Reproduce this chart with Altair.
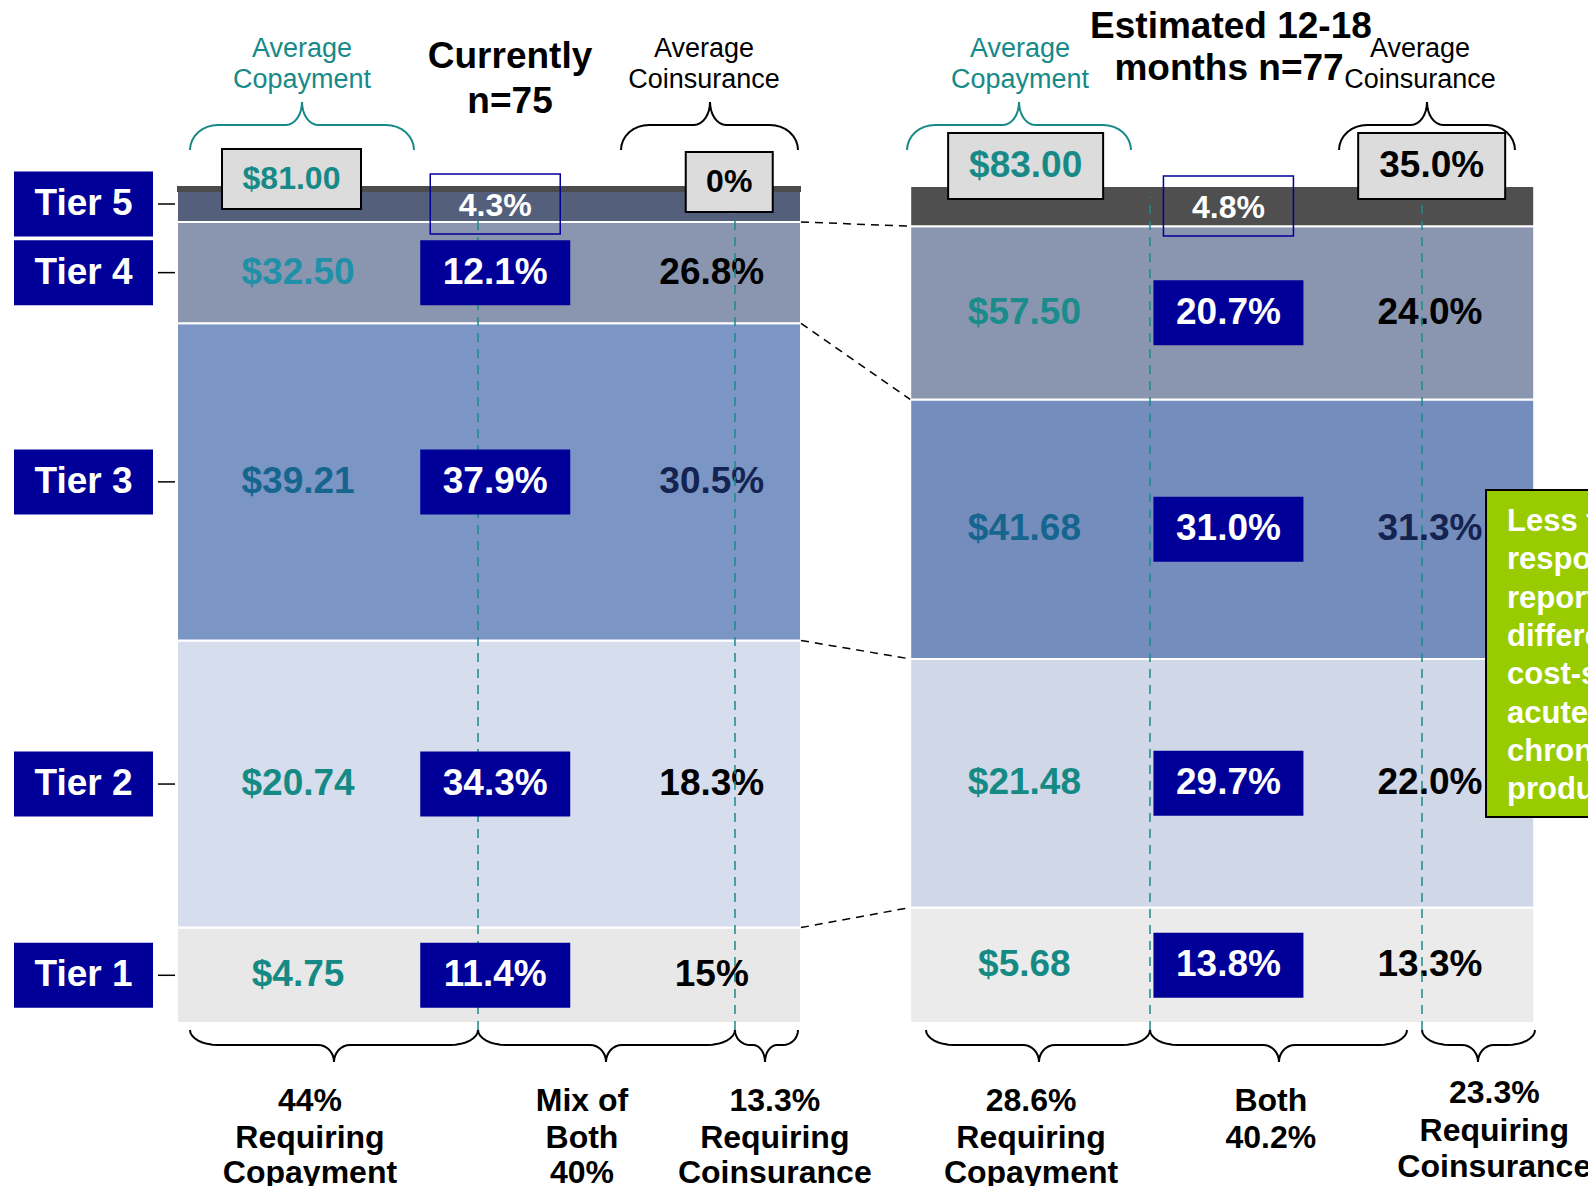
import altair as alt
import numpy as np
import pandas as pd

# ---------------- data ----------------
tiers = ["Tier 1", "Tier 2", "Tier 3", "Tier 4", "Tier 5"]
scenarios = ["Currently", "Estimated"]
title_current = ["Currently", "n=75"]
title_estimated = ["Estimated 12-18", "months n=77"]
share_current = [11.4, 34.3, 37.9, 12.1, 4.3]
share_estimated = [13.8, 29.7, 31.0, 20.7, 4.8]
copay_current = ["$4.75", "$20.74", "$39.21", "$32.50", "$81.00"]
copay_estimated = ["$5.68", "$21.48", "$41.68", "$57.50", "$83.00"]
coins_current = ["15%", "18.3%", "30.5%", "26.8%", "0%"]
coins_estimated = ["13.3%", "22.0%", "31.3%", "24.0%", "35.0%"]
groups_current = [["44%", "Requiring", "Copayment"], ["Mix of", "Both", "40%"],
                  ["13.3%", "Requiring", "Coinsurance"]]
groups_estimated = [["28.6%", "Requiring", "Copayment"], ["Both", "40.2%"],
                    ["23.3%", "Requiring", "Coinsurance"]]
header_copay = ["Average", "Copayment"]
header_coins = ["Average", "Coinsurance"]
note_lines = ["Less than", "respondents", "reported", "different",
              "cost-sharing", "acute and", "chronic", "products"]

# ---------------- styles ----------------
FONT = "Liberation Sans"
NAVY = "#000099"
TEAL = "#178A88"
fill_current = ["#E8E8E8", "#D6DDEC", "#7B95C4", "#8A96AF", "#535F7B"]
fill_estimated = ["#EBEBEB", "#D0D7E6", "#758DBD", "#8A96AF", "#4F4F4F"]
copay_col_current = ["#158A85", "#158A85", "#16658F", "#2090A8", TEAL]
copay_col_estimated = ["#158A85", "#158A85", "#16658F", "#1A8C8C", TEAL]
coins_col = ["#000000", "#000000", "#14234F", "#000000", "#000000"]

# ---------------- layout ----------------
PXU, PYU = 624.0, 8.37          # pixels per x unit (bar width) / per percent
W, H = 1580, 1178
OX, OY = 169, 1015              # pixel position of left bar origin
X_DOMAIN = [-OX / PXU, (W - OX) / PXU]
Y_DOMAIN = [(OY - H) / PYU, OY / PYU]

layout = {
    "Currently": dict(
        off=0.0, share=share_current, copay=copay_current, coins=coins_current,
        fills=fill_current, copay_cols=copay_col_current, title=title_current,
        groups=groups_current, copay_x=0.194, box_x=0.51, coins_x=0.857,
        t5_copay=(0.1835, -7, 139, 60, 32), t5_coins=(0.885, -4, 87, 60, 32),
        dash=(0.4824, 0.8942), dash_top=96.8,
        head=(0.2003, 0.8446), title_pos=[(0.5337, 115.41), (0.5337, 110.04)],
        top_braces=[(0.0208, 0.3798, 0.2003, TEAL), (0.7115, 0.9952, 0.8542, "black")],
        bot_braces=[(0.0208, 0.4824, 0.2516), (0.4824, 0.8942, 0.6875), (0.8942, 0.9952, 0.9423)],
        group_x=[0.2131, 0.649, 0.958], group_y=[[-9.3, -13.75, -17.9]] * 3,
    ),
    "Estimated": dict(
        off=1.175, share=share_estimated, copay=copay_estimated, coins=coins_estimated,
        fills=fill_estimated, copay_cols=copay_col_estimated, title=title_estimated,
        groups=groups_estimated, copay_x=0.183, box_x=0.51, coins_x=0.833,
        t5_copay=(0.185, -20, 155, 66, 37), t5_coins=(0.8357, -20, 147, 66, 37),
        dash=(0.3843, 0.8202), dash_top=98.7,
        head=(0.176, 0.817), title_pos=[(0.514, 119.0), (0.511, 114.0)],
        top_braces=[(-0.0051, 0.3538, 0.1744, TEAL), (0.6872, 0.9692, 0.8282, "black")],
        bot_braces=[(0.0253, 0.3843, 0.2064), (0.3843, 0.7962, 0.5910), (0.8202, 1.0013, 0.9099)],
        group_x=[0.1936, 0.578, 0.936],
        group_y=[[-9.3, -13.75, -17.9], [-9.3, -13.75], [-8.36, -12.9, -17.2]],
    ),
}


def X(f):
    return alt.X(f, type="quantitative", axis=None,
                 scale=alt.Scale(domain=X_DOMAIN, nice=False, zero=False))


def Y(f):
    return alt.Y(f, type="quantitative", axis=None,
                 scale=alt.Scale(domain=Y_DOMAIN, nice=False, zero=False))


def rects(df, **mark):
    enc = dict(x=X("x0"), x2=alt.X2("x1"), y=Y("y0"), y2=alt.Y2("y1"))
    if "fill" in df.columns:
        enc["fill"] = alt.Fill("fill:N", scale=None)
    return alt.Chart(df).mark_rect(**mark).encode(**enc)


def texts(df, align="center", weight="bold"):
    return alt.Chart(df).mark_text(align=align, baseline="middle", font=FONT,
                                   fontWeight=weight).encode(
        x=X("x"), y=Y("y"), text="text:N",
        size=alt.Size("fs:Q", scale=None), color=alt.Color("c:N", scale=None))


def rules(df, **mark):
    enc = dict(x=X("x0"), x2=alt.X2("x1"), y=Y("y0"))
    if "y1" in df.columns:
        enc["y2"] = alt.Y2("y1")
    return alt.Chart(df).mark_rule(**mark).encode(**enc)


def brace(x0, x1, xt, ye, ym, yt, n=9):
    seg = min(xt - x0, x1 - xt)
    rx = min(28 / PXU, 0.5 * seg)
    rt = min(16 / PXU, 0.4 * seg)
    ts = np.linspace(0, np.pi / 2, n)
    pts = [(x0 + rx * (1 - np.cos(t)), ye + (ym - ye) * np.sin(t)) for t in ts]
    pts += [(xt - rt + rt * np.sin(t), ym + (yt - ym) * (1 - np.cos(t))) for t in ts]
    pts += [(xt + rt * (1 - np.cos(t)), yt + (ym - yt) * np.sin(t)) for t in ts]
    pts += [(x1 - rx + rx * np.sin(t), ym + (ye - ym) * (1 - np.cos(t))) for t in ts]
    return pts


bars, strip, tierbox, tiertick, tiertext = [], [], [], [], []
copay_t, coins_t, dashes, navy, navy_t = [], [], [], [], []
t5box, t5box_t, graybox, graybox_t = [], [], [], []
brace_pts, head_t, bottom_t = [], [], []
bounds = {}

for s in scenarios:
    L = layout[s]
    off = L["off"]
    cum = 0.0
    mids = []
    tops = []
    for i, t in enumerate(tiers):
        v = L["share"][i]
        bars.append(dict(x0=off, x1=off + 1, y0=cum, y1=cum + v, fill=L["fills"][i]))
        mid = cum + v / 2
        mids.append(mid)
        cum += v
        tops.append(cum)
    bounds[s] = tops[:4]
    total = cum
    hb = 32.5 / PYU
    for i in range(4):
        m = mids[i]
        copay_t.append(dict(x=off + L["copay_x"], y=m, text=L["copay"][i], fs=37, c=L["copay_cols"][i]))
        coins_t.append(dict(x=off + L["coins_x"], y=m, text=L["coins"][i], fs=37, c=coins_col[i]))
        bx = off + L["box_x"]
        navy.append(dict(x0=bx - 75 / PXU, x1=bx + 75 / PXU, y0=m - hb, y1=m + hb, fill=NAVY))
        navy_t.append(dict(x=bx, y=m, text=f"{L['share'][i]:.1f}%", fs=37, c="white"))
    # tier 5 (above the bar)
    m5 = mids[4]
    bx = off + L["box_x"]
    t5box.append(dict(x0=bx - 65 / PXU, x1=bx + 65 / PXU, y0=m5 - 30 / PYU, y1=m5 + 30 / PYU))
    t5box_t.append(dict(x=bx, y=m5 - 2 / PYU, text=f"{L['share'][4]:.1f}%", fs=32, c="white"))
    for (fx, dy, w, h, fs), txt, col in ((L["t5_copay"], L["copay"][4], TEAL),
                                           (L["t5_coins"], L["coins"][4], "black")):
        cy = total - dy / PYU
        graybox.append(dict(x0=off + fx - w / 2 / PXU, x1=off + fx + w / 2 / PXU,
                            y0=cy - h / 2 / PYU, y1=cy + h / 2 / PYU, fill="#DCDCDC"))
        graybox_t.append(dict(x=off + fx, y=cy, text=txt, fs=fs, c=col))
    if s == "Currently":
        strip.append(dict(x0=off, x1=off + 1, y0=total))
        for i in range(5):
            m = mids[i]
            tierbox.append(dict(x0=-163 / PXU, x1=-24 / PXU, y0=m - hb, y1=m + hb, fill=NAVY))
            tiertick.append(dict(x0=-19 / PXU, x1=-2 / PXU, y0=m))
            tiertext.append(dict(x=-93.5 / PXU, y=m, text=tiers[i], fs=37, c="white"))
    for dx in L["dash"]:
        dashes.append(dict(x0=off + dx, x1=off + dx, y0=-0.84, y1=L["dash_top"]))
    # braces
    for j, (a, b, tip, col) in enumerate(L["top_braces"]):
        for k, (px, py) in enumerate(brace(off + a, off + b, off + tip, 104.30, 107.29, 110.04)):
            brace_pts.append(dict(x=px, y=py, o=k, bid=f"{s}-top-{j}", c=col))
    for j, (a, b, tip) in enumerate(L["bot_braces"]):
        for k, (px, py) in enumerate(brace(off + a, off + b, off + tip, -0.836, -2.628, -4.659)):
            brace_pts.append(dict(x=px, y=py, o=k, bid=f"{s}-bot-{j}", c="black"))
    # headers
    hx_copay, hx_coins = L["head"]
    for line, yy in zip(header_copay, (116.37, 112.66)):
        head_t.append(dict(x=off + hx_copay, y=yy, text=line, fs=27, c=TEAL, w="normal"))
    for line, yy in zip(header_coins, (116.37, 112.66)):
        head_t.append(dict(x=off + hx_coins, y=yy, text=line, fs=27, c="black", w="normal"))
    for line, (tx, ty) in zip(L["title"], L["title_pos"]):
        head_t.append(dict(x=off + tx, y=ty, text=line, fs=37, c="black", w="bold"))
    for g, gx, gy in zip(L["groups"], L["group_x"], L["group_y"]):
        for line, yy in zip(g, gy):
            bottom_t.append(dict(x=off + gx, y=yy, text=line, fs=32, c="black"))

connectors = [dict(x0=1.0, x1=layout["Estimated"]["off"], y0=a, y1=b)
              for a, b in zip(bounds["Currently"], bounds["Estimated"])]

note_box = [dict(x0=2.0978, x1=2.45, y0=24.61, y1=63.68, fill="#99CC00")]
note_t = [dict(x=2.1314, y=59.86 - 4.58 * i, text=line, fs=31, c="white")
          for i, line in enumerate(note_lines)]

D = pd.DataFrame
head_df = D(head_t)

layers = [
    rects(D(bars), stroke="white", strokeWidth=2),
    rules(D(strip), color="#4B4B4B", strokeWidth=6, yOffset=3),
    rules(D(connectors), color="black", strokeWidth=1.5, strokeDash=[8, 6]),
    rects(D(tierbox)),
    rules(D(tiertick), color="black", strokeWidth=1.5),
    texts(D(tiertext)),
    texts(D(copay_t)),
    texts(D(coins_t)),
    rules(D(dashes), color="#1A8A8A", strokeWidth=1.5, strokeDash=[9, 7]),
    rects(D(navy)),
    texts(D(navy_t)),
    rects(D(t5box), filled=False, stroke=NAVY, strokeWidth=1.5),
    texts(D(t5box_t)),
    rects(D(graybox), stroke="black", strokeWidth=2),
    texts(D(graybox_t)),
    alt.Chart(D(brace_pts)).mark_line(strokeWidth=2).encode(
        x=X("x"), y=Y("y"), detail="bid:N", order="o:Q",
        color=alt.Color("c:N", scale=None)),
    texts(head_df[head_df.w == "normal"], weight="normal"),
    texts(head_df[head_df.w == "bold"], weight="bold"),
    texts(D(bottom_t)),
    rects(D(note_box), stroke="black", strokeWidth=2),
    texts(D(note_t), align="left"),
]

chart = alt.layer(*layers).properties(
    width=W, height=H,
    autosize=alt.AutoSizeParams(type="none"),
    padding=0,
    background="white",
).configure_view(stroke=None)

chart.save("out.html", embed_options={"renderer": "svg", "actions": False})
